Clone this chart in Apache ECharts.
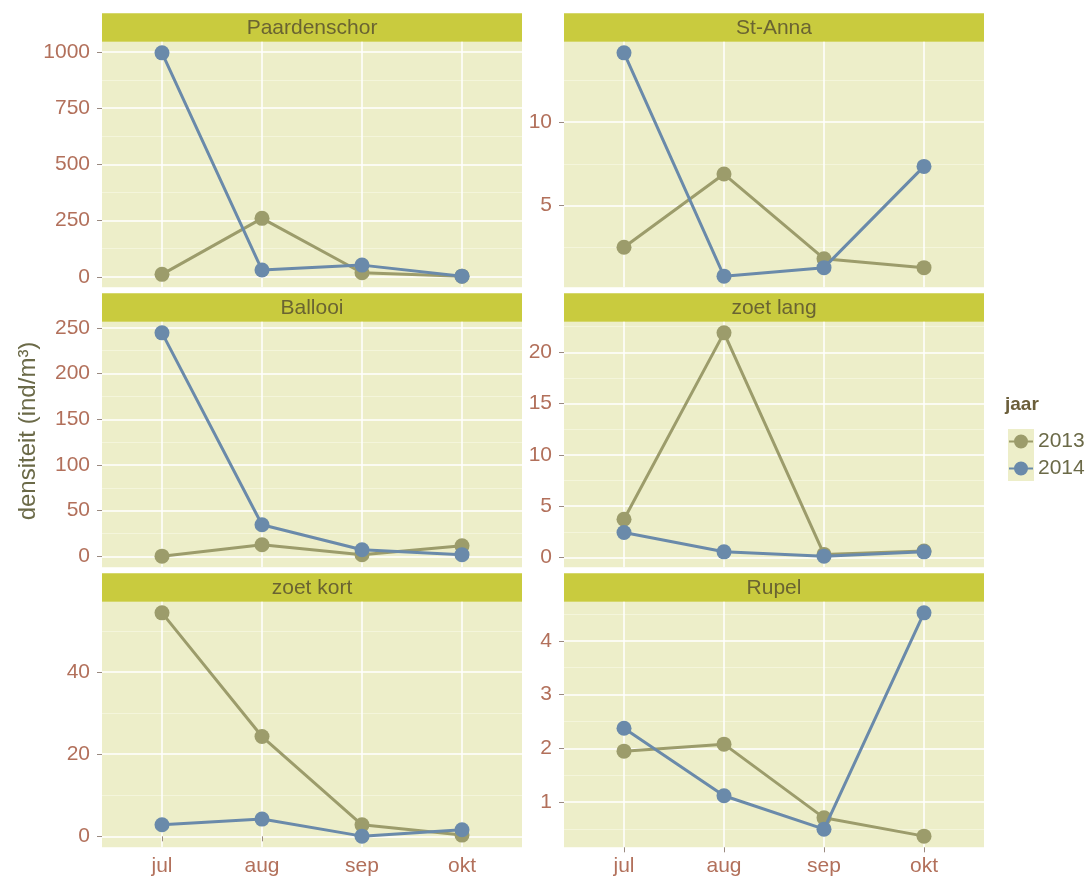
<!DOCTYPE html>
<html>
<head>
<meta charset="utf-8">
<script src="https://cdn.jsdelivr.net/npm/echarts@6/dist/echarts.min.js"></script>
<style>html,body{margin:0;padding:0;background:#fff}#c{width:1091px;height:881px}</style>
</head>
<body>
<div id="c"></div>
<script>
// ---- data ----
const months = ['jul', 'aug', 'sep', 'okt'];
const years = ['2013', '2014'];
const panelNames = ['Paardenschor', 'St-Anna', 'Ballooi', 'zoet lang', 'zoet kort', 'Rupel'];

const paardenschor2013 = [11, 260, 18, 3];
const paardenschor2014 = [996, 30, 52, 3];
const stAnna2013 = [2.48, 6.88, 1.79, 1.25];
const stAnna2014 = [14.17, 0.74, 1.25, 7.34];
const ballooi2013 = [0.3, 12.8, 1.9, 11.7];
const ballooi2014 = [244.5, 34.7, 7.3, 1.9];
const zoetLang2013 = [3.73, 21.89, 0.3, 0.62];
const zoetLang2014 = [2.43, 0.55, 0.13, 0.55];
const zoetKort2013 = [54.4, 24.3, 2.8, 0.3];
const zoetKort2014 = [2.83, 4.2, 0.05, 1.6];
const rupel2013 = [1.95, 2.08, 0.71, 0.37];
const rupel2014 = [2.375, 1.12, 0.50, 4.52];

const paardenschorTicks = [0, 250, 500, 750, 1000];
const stAnnaTicks = [5, 10];
const ballooiTicks = [0, 50, 100, 150, 200, 250];
const zoetLangTicks = [0, 5, 10, 15, 20];
const zoetKortTicks = [0, 20, 40];
const rupelTicks = [1, 2, 3, 4];

const panelData = [
  [paardenschor2013, paardenschor2014],
  [stAnna2013, stAnna2014],
  [ballooi2013, ballooi2014],
  [zoetLang2013, zoetLang2014],
  [zoetKort2013, zoetKort2014],
  [rupel2013, rupel2014]
];
const panelTicks = [paardenschorTicks, stAnnaTicks, ballooiTicks, zoetLangTicks, zoetKortTicks, rupelTicks];

// ---- style / layout ----
const colors = ['#9C9C6B', '#6A8AAA'];
const panelBg = '#EDEEC9';
const stripBg = '#C9CB3E';
const stripText = '#6A6432';
const tickText = '#B2705B';
const font = 'Liberation Sans, Arial, sans-serif';
const colLeft = [102, 564];
const plotW = 420;
const plotTop = [41.7, 321.7, 601.7];
const plotH = 245.6;
const stripH = 28.4;

const grids = [], xAxes = [], yAxes = [], series = [], graphics = [];

panelNames.forEach((name, p) => {
  const row = Math.floor(p / 2), col = p % 2;
  const left = colLeft[col], top = plotTop[row];
  const isBottom = row === 2;
  grids.push({left: left, top: top, width: plotW, height: plotH, show: true,
    backgroundColor: panelBg, borderWidth: 0, containLabel: false});

  // ggplot-style 5% expansion of data range
  const all = panelData[p][0].concat(panelData[p][1]);
  const lo = Math.min(...all), hi = Math.max(...all);
  const pad = (hi - lo) * 0.05;
  const ymin = lo - pad, ymax = hi + pad;
  const ticks = panelTicks[p];
  const step = ticks.length > 1 ? ticks[1] - ticks[0] : ticks[0];
  const minor = [];
  for (let i = -1; i < ticks.length; i++) {
    const v = (i < 0 ? ticks[0] - step : ticks[i]) + step / 2;
    if (v > ymin && v < ymax && !(ticks.includes(v))) minor.push(v);
  }

  xAxes.push({
    type: 'value', gridIndex: p, min: 0.4, max: 4.6,
    axisLine: {show: false},
    axisTick: {show: isBottom, customValues: [1, 2, 3, 4], length: 5, lineStyle: {color: '#9A8A80', width: 1}},
    axisLabel: {show: isBottom, customValues: [1, 2, 3, 4], formatter: v => months[Math.round(v) - 1],
      color: tickText, fontSize: 21, fontFamily: font, margin: 8},
    splitLine: {show: true, lineStyle: {color: '#ffffff', width: 1.5}}
  });
  // minor grid axis (drawn first)
  yAxes.push({
    type: 'value', gridIndex: p, min: ymin, max: ymax, position: 'left',
    axisLine: {show: false},
    axisTick: {show: false, customValues: minor},
    axisLabel: {show: false, customValues: minor},
    splitLine: {show: true, lineStyle: {color: '#F5F6E0', width: 0.8}}
  });
  // major axis
  yAxes.push({
    type: 'value', gridIndex: p, min: ymin, max: ymax, position: 'left',
    axisLine: {show: false},
    axisTick: {show: true, customValues: ticks, length: 5, lineStyle: {color: '#9A8A80', width: 1}},
    axisLabel: {show: true, customValues: ticks, formatter: v => String(v),
      color: tickText, fontSize: 21, fontFamily: font, margin: 12},
    splitLine: {show: true, lineStyle: {color: '#ffffff', width: 1.5}}
  });

  years.forEach((y, k) => {
    series.push({
      name: y, type: 'line', xAxisIndex: p, yAxisIndex: 2 * p + 1,
      data: panelData[p][k].map((v, i) => [i + 1, v]),
      symbol: 'circle', symbolSize: 15,
      lineStyle: {color: colors[k], width: 3},
      itemStyle: {color: colors[k]},
      emphasis: {disabled: true}, animation: false, z: 3 + k
    });
  });

  graphics.push({
    type: 'rect', shape: {x: left, y: top - stripH, width: plotW, height: stripH},
    style: {fill: stripBg}, silent: true
  });
  graphics.push({
    type: 'text', x: left + plotW / 2, y: top - stripH / 2 + 1,
    style: {text: name, fill: stripText, font: '21px ' + font, textAlign: 'center', textVerticalAlign: 'middle'},
    silent: true
  });
});

// y-axis title
graphics.push({
  type: 'text', x: 28, y: 431, rotation: Math.PI / 2,
  style: {text: 'densiteit (ind/m³)', fill: '#6B6A48', font: '24px ' + font, textAlign: 'center', textVerticalAlign: 'middle'},
  silent: true
});
// legend title and key backgrounds
graphics.push({
  type: 'text', x: 1005, y: 405,
  style: {text: 'jaar', fill: '#6B5E3A', font: 'bold 19px ' + font, textAlign: 'left', textVerticalAlign: 'middle'},
  silent: true
});
graphics.push({type: 'rect', shape: {x: 1008, y: 429, width: 26, height: 26}, style: {fill: panelBg}, silent: true, z: -1});
graphics.push({type: 'rect', shape: {x: 1008, y: 455, width: 26, height: 26}, style: {fill: panelBg}, silent: true, z: -1});

const chart = echarts.init(document.getElementById('c'), null, {renderer: 'canvas'});
chart.setOption({
  animation: false,
  backgroundColor: '#ffffff',
  grid: grids, xAxis: xAxes, yAxis: yAxes, series: series,
  legend: {
    data: years, orient: 'vertical', left: 1009, top: 431, itemGap: 6, padding: 0,
    itemWidth: 24, itemHeight: 14,
    icon: 'path://M0,6 L24,6 L24,8 L0,8 Z M19,7 A7,7 0 1,1 5,7 A7,7 0 1,1 19,7 Z',
    textStyle: {color: '#6B6A48', fontSize: 21, fontFamily: font},
    selectedMode: false
  },
  graphic: graphics
});
</script>
</body>
</html>
